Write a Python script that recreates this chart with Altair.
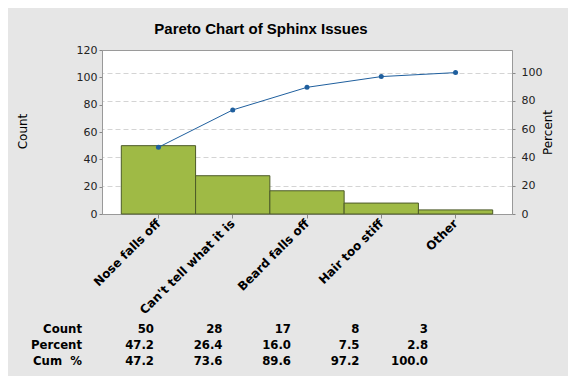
import altair as alt
import pandas as pd

categories = ["Nose falls off", "Can't tell what it is", "Beard falls off", "Hair too stiff", "Other"]
counts = [50, 28, 17, 8, 3]
percents = [47.2, 26.4, 16.0, 7.5, 2.8]
cum_pct = [47.2, 73.6, 89.6, 97.2, 100.0]
row_labels = ["Count", "Percent", "Cum\u00a0\u00a0%"]
count_ticks = [0, 20, 40, 60, 80, 100, 120]
pct_ticks = [0, 20, 40, 60, 80, 100]

main = pd.DataFrame({"cat": categories, "count": counts, "cum": cum_pct})

rows = []
for c, (n, p, cp) in enumerate(zip(counts, percents, cum_pct), start=1):
    rows.append({"row": 0, "col": c, "txt": f"{n}"})
    rows.append({"row": 1, "col": c, "txt": f"{p:.1f}"})
    rows.append({"row": 2, "col": c, "txt": f"{cp:.1f}"})
table = pd.DataFrame(rows)
labels = pd.DataFrame({"row": [0, 1, 2], "col": [0, 0, 0], "txt": row_labels})

AX_FONT = "DejaVu Sans"
GREEN = "#9fba45"
BLUE = "#1f5f9e"

x = alt.X(
    "cat:N", sort=None,
    scale=alt.Scale(paddingInner=0, paddingOuter=0.26),
    axis=alt.Axis(title=None, labelAngle=-45, labelAlign="right", labelBaseline="middle",
                  labelFont=AX_FONT, labelFontSize=12, labelFontWeight="bold", labelColor="black",
                  tickColor="#888888", domainColor="#999999", tickSize=4, labelPadding=3,
                  grid=False, labelLimit=300),
)

bars = alt.Chart(main).mark_bar(fill=GREEN, stroke="#4c5a28", strokeWidth=1).encode(
    x=x,
    y=alt.Y("count:Q", scale=alt.Scale(domain=[0, 120], nice=False),
            axis=alt.Axis(values=count_ticks, title="Count", grid=False,
                          labelFont=AX_FONT, labelFontSize=11, labelColor="#222222",
                          tickColor="#888888", domainColor="#999999", tickSize=3, labelPadding=2,
                          titleFont=AX_FONT, titleFontSize=12, titleFontWeight="normal",
                          titleColor="black", titleAngle=270, titleX=-80, titleY=81,
                          titleAlign="center", titleBaseline="middle")),
)

line = alt.Chart(main).mark_line(
    color=BLUE, strokeWidth=1,
    point=alt.OverlayMarkDef(filled=True, size=25, color=BLUE),
).encode(
    x=x,
    y=alt.Y("cum:Q", scale=alt.Scale(domain=[0, 116], nice=False),
            axis=alt.Axis(values=pct_ticks, title="Percent", orient="right", grid=True,
                          gridDash=[5, 3], gridColor="#d4d4d4",
                          labelFont=AX_FONT, labelFontSize=11, labelColor="#222222",
                          tickColor="#888888", domainColor="#999999", tickSize=3, labelPadding=6,
                          titleFont=AX_FONT, titleFontSize=12, titleFontWeight="normal",
                          titleColor="black", titleAngle=270, titleX=35, titleY=82,
                          titleAlign="center", titleBaseline="middle")),
)

top = alt.layer(bars, line).resolve_scale(y="independent")

TFONT = "Liberation Sans Narrow, Arial Narrow, DejaVu Sans Condensed, sans-serif"
tx = alt.X("col:Q", scale=alt.Scale(domain=[0.241, 6.226], nice=False, zero=False), axis=None)
ty = alt.Y("row:Q", scale=alt.Scale(domain=[-17.44, -7.19], nice=False, zero=False, reverse=True), axis=None)

vals = alt.Chart(table).mark_text(align="right", baseline="middle", font=TFONT,
                                   fontSize=13, fontWeight="bold", color="black").encode(
    x=tx, y=ty, text="txt:N")
labs = alt.Chart(labels).mark_text(align="right", baseline="middle", font=TFONT, dx=-3.5,
                                    fontSize=13, fontWeight="bold", color="black").encode(
    x=tx, y=ty, text="txt:N")
tab = alt.layer(vals, labs)

chart = alt.layer(top, tab).resolve_scale(x="independent", y="independent").properties(
    width=410, height=164,
    padding={"left": 94, "top": 42, "right": 56, "bottom": 162},
    autosize="none",
    title=alt.TitleParams("Pareto Chart of Sphinx Issues", font="Liberation Sans", fontSize=15,
                          fontWeight="bold", color="black", anchor="middle", dx=-46, offset=7),
).configure(background="#e6e6e6").configure_view(fill="white", stroke="#9a9a9a")

chart.save("out.html", embed_options={"renderer": "svg", "actions": False})
